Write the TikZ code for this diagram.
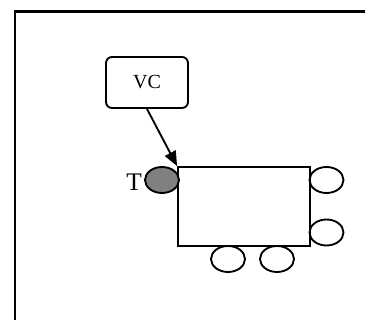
\documentclass[tikz,border=0pt]{standalone}
\usepackage{fontspec}
\setmainfont{Liberation Serif}
\usetikzlibrary{shapes.geometric,arrows.meta}
\begin{document}
\begin{tikzpicture}[x=0.75pt,y=-0.75pt,
  frameline/.style={line width=1.8pt},
  shapeline/.style={line width=1.4pt},
  wheel/.style={ellipse,draw,shapeline,minimum width=25.5pt,minimum height=19.5pt,inner sep=0pt},
  lbl/.style={font=\fontsize{15}{17}\selectfont}]
\useasboundingbox (0,0) rectangle (365,320);
\fill[white] (0,0) rectangle (365,320);
\coordinate (ftl) at (15,11.5);
\coordinate (ftr) at (366,11.5);
\coordinate (fbl) at (15,321);
\draw[frameline] (fbl) -- (ftl) -- (ftr);
\node[draw,shapeline,rounded corners=4.5pt,minimum width=61.5pt,minimum height=38.25pt,inner sep=0pt,lbl] (vc) at (147,82.5) {VC};
\node[draw,shapeline,minimum width=99pt,minimum height=59.25pt,inner sep=0pt] (box) at (244,206.5) {};
\node[wheel,fill=black!50] (t) at (162,180) {};
\node[font=\fontsize{19}{21}\selectfont,anchor=east,inner sep=0pt] (tl) at (142,182) {T};
\node[wheel] (r1) at (326.5,180) {};
\node[wheel] (r2) at (326.5,232.5) {};
\node[wheel] (b1) at (228,259) {};
\node[wheel] (b2) at (277,259) {};
\draw[shapeline,-{Triangle[length=11pt,width=9pt]}] (vc.south) -- (box.north west);
\end{tikzpicture}
\end{document}
